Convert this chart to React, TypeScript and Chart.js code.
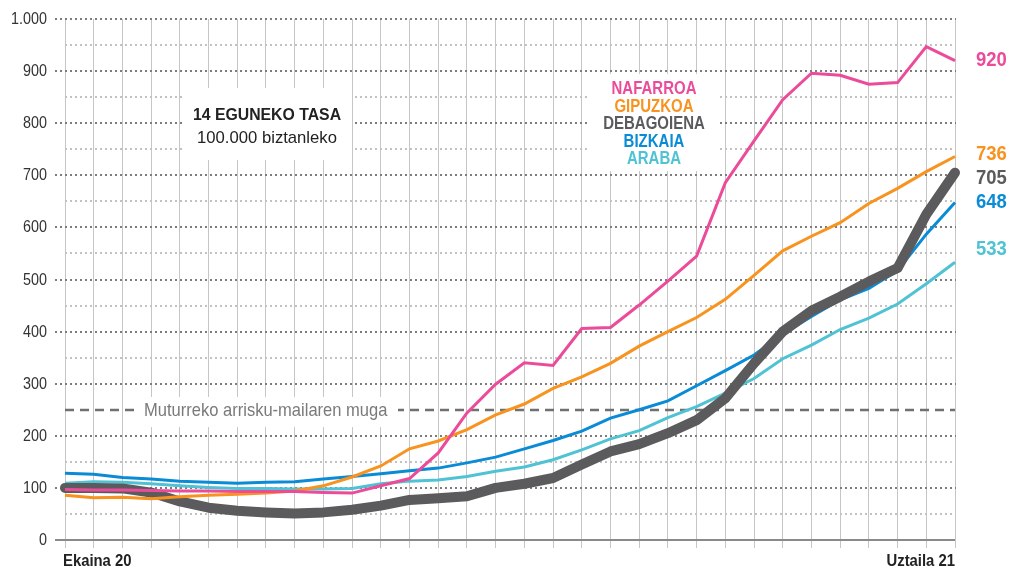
import React, { useEffect, useRef } from 'react';
import { Chart, registerables } from 'chart.js';

Chart.register(...registerables);

const FONT = '"Liberation Sans", Arial, sans-serif';

const dates = [
  'Ekaina 20', 'Ekaina 21', 'Ekaina 22', 'Ekaina 23', 'Ekaina 24', 'Ekaina 25', 'Ekaina 26',
  'Ekaina 27', 'Ekaina 28', 'Ekaina 29', 'Ekaina 30',
  'Uztaila 1', 'Uztaila 2', 'Uztaila 3', 'Uztaila 4', 'Uztaila 5', 'Uztaila 6', 'Uztaila 7',
  'Uztaila 8', 'Uztaila 9', 'Uztaila 10', 'Uztaila 11', 'Uztaila 12', 'Uztaila 13', 'Uztaila 14',
  'Uztaila 15', 'Uztaila 16', 'Uztaila 17', 'Uztaila 18', 'Uztaila 19', 'Uztaila 20', 'Uztaila 21',
];

const nafarroa = [97, 96, 96, 95, 94, 94, 93, 93, 93, 91, 90, 104, 118, 167, 244, 299, 340, 335, 406, 408, 451, 497, 545, 686, 766, 845, 896, 892, 875, 878, 947, 920];
const gipuzkoa = [86, 81, 82, 79, 83, 86, 88, 90, 94, 104, 121, 142, 175, 190, 212, 240, 261, 291, 313, 339, 372, 400, 427, 462, 508, 555, 583, 609, 646, 675, 707, 736];
const debagoiena = [100, 100, 99, 91, 74, 62, 56, 53, 51, 53, 58, 66, 77, 80, 84, 100, 108, 119, 145, 170, 184, 205, 230, 272, 339, 400, 440, 467, 496, 522, 625, 705];
const bizkaia = [128, 126, 120, 117, 113, 111, 109, 111, 112, 117, 122, 127, 133, 138, 148, 159, 175, 191, 209, 234, 250, 267, 296, 325, 355, 395, 429, 461, 483, 517, 587, 648];
const araba = [109, 112, 111, 108, 104, 101, 99, 99, 98, 98, 99, 108, 113, 115, 122, 132, 140, 154, 173, 194, 210, 235, 256, 282, 310, 348, 374, 404, 426, 453, 492, 533];

const seriesNames = ['NAFARROA', 'GIPUZKOA', 'DEBAGOIENA', 'BIZKAIA', 'ARABA'];
const seriesData = [nafarroa, gipuzkoa, debagoiena, bizkaia, araba];
const seriesColors = ['#EC4B9A', '#F7931E', '#5B5B5D', '#0A8BD6', '#4FC3D3'];
const seriesWidths = [3, 3, 10, 3, 3];
// value levels at which the end labels are placed (to avoid overlap)
const endLabelLevels = [920, 741, 695, 649, 558];

const yTicks = [0, 100, 200, 300, 400, 500, 600, 700, 800, 900, 1000];
const yTickLabels = ['0', '100', '200', '300', '400', '500', '600', '700', '800', '900', '1.000'];
const THRESHOLD = 250;
const thresholdLabel = 'Muturreko arrisku-mailaren muga';
const titleLine1 = '14 EGUNEKO TASA';
const titleLine2 = '100.000 biztanleko';

function narrowText(ctx: CanvasRenderingContext2D, text: string, x: number, y: number, align: CanvasTextAlign, sx: number) {
  ctx.save();
  ctx.translate(x, y);
  ctx.scale(sx, 1);
  ctx.textAlign = align;
  ctx.textBaseline = 'middle';
  ctx.fillText(text, 0, 0);
  ctx.restore();
}

const overlayPlugin = {
  id: 'overlay',
  beforeDatasetsDraw(chart: any) {
    const { ctx, chartArea: a, scales } = chart;
    const y = scales.y;
    ctx.save();
    // horizontal dotted grid
    for (let v = 50; v <= 1000; v += 50) {
      if (v === THRESHOLD) continue;
      const major = v % 100 === 0;
      const py = Math.round(y.getPixelForValue(v));
      ctx.strokeStyle = major ? '#7c7c7c' : '#c2c2c2';
      ctx.lineWidth = 2;
      ctx.setLineDash([2, 3]);
      ctx.beginPath();
      ctx.moveTo(major ? a.left - 10 : a.left, py);
      ctx.lineTo(a.right + 1, py);
      ctx.stroke();
    }
    ctx.setLineDash([]);
    // threshold dashed line
    const ty = Math.round(y.getPixelForValue(THRESHOLD));
    ctx.strokeStyle = '#707070';
    ctx.lineWidth = 2.5;
    ctx.setLineDash([9, 6]);
    ctx.beginPath();
    ctx.moveTo(a.left, ty);
    ctx.lineTo(a.right, ty);
    ctx.stroke();
    ctx.setLineDash([]);
    // zero line
    const zy = Math.round(y.getPixelForValue(0));
    ctx.strokeStyle = '#8a8a8a';
    ctx.lineWidth = 2;
    ctx.beginPath();
    ctx.moveTo(a.left - 10, zy);
    ctx.lineTo(a.right, zy);
    ctx.stroke();

    // white boxes
    ctx.fillStyle = '#ffffff';
    ctx.fillRect(140, ty - 13, 258, 30);
    ctx.fillRect(182, 88, 170, 72);
    ctx.fillRect(587, 74, 131, 97);

    // y tick labels
    ctx.fillStyle = '#333333';
    ctx.font = `16.5px ${FONT}`;
    yTicks.forEach((v, i) => {
      narrowText(ctx, yTickLabels[i], a.left - 18, y.getPixelForValue(v) + 0.5, 'right', 0.87);
    });

    // threshold label
    ctx.fillStyle = '#7a7a7a';
    ctx.font = `19px ${FONT}`;
    narrowText(ctx, thresholdLabel, 144, ty + 1, 'left', 0.87);

    // title box
    ctx.fillStyle = '#222222';
    ctx.font = `bold 17px ${FONT}`;
    narrowText(ctx, titleLine1, 267, 115, 'center', 0.93);
    ctx.font = `17px ${FONT}`;
    narrowText(ctx, titleLine2, 267, 138, 'center', 0.98);

    // legend
    ctx.font = `bold 18.5px ${FONT}`;
    seriesNames.forEach((n, i) => {
      ctx.fillStyle = seriesColors[i];
      narrowText(ctx, n, 654, 89 + i * 17.5, 'center', 0.81);
    });
    ctx.restore();
  },
  afterDatasetsDraw(chart: any) {
    const { ctx, chartArea: a, scales } = chart;
    const y = scales.y;
    ctx.save();
    ctx.font = `bold 21px ${FONT}`;
    seriesData.forEach((d, i) => {
      ctx.fillStyle = seriesColors[i];
      narrowText(ctx, String(d[d.length - 1]), a.right + 21, y.getPixelForValue(endLabelLevels[i]), 'left', 0.88);
    });
    // x labels
    ctx.fillStyle = '#222222';
    ctx.font = `bold 16.5px ${FONT}`;
    narrowText(ctx, dates[0], a.left - 2, 561, 'left', 0.9);
    narrowText(ctx, dates[dates.length - 1], a.right, 561, 'right', 0.9);
    ctx.restore();
  },
};

export default function App() {
  const ref = useRef<HTMLCanvasElement>(null);
  useEffect(() => {
    if (!ref.current) return;
    const chart = new Chart(ref.current, {
      type: 'line',
      data: {
        labels: dates,
        datasets: seriesData.map((d, i) => ({
          label: seriesNames[i],
          data: d,
          borderColor: seriesColors[i],
          backgroundColor: seriesColors[i],
          borderWidth: seriesWidths[i],
          pointRadius: 0,
          tension: 0,
          fill: false,
          clip: false as any,
          borderCapStyle: i === 2 ? 'round' : 'butt',
          borderJoinStyle: i === 2 ? 'round' : 'miter',
        })),
      },
      options: {
        responsive: false,
        animation: false,
        events: [],
        layout: { padding: { left: 0, right: 54, top: 19, bottom: 0 } },
        plugins: { legend: { display: false }, tooltip: { enabled: false } },
        scales: {
          x: {
            type: 'category',
            offset: false,
            grid: { display: true, color: '#c6c6c6', lineWidth: 1, drawTicks: true, tickLength: 8 },
            border: { display: false },
            ticks: { display: false },
            afterFit: (s: any) => { s.height = 30; },
          },
          y: {
            min: 0,
            max: 1000,
            afterBuildTicks: (s: any) => { s.ticks = yTicks.map((v) => ({ value: v })); },
            ticks: { display: false },
            grid: { display: false, drawTicks: false },
            border: { display: false },
            afterFit: (s: any) => { s.width = 65; },
          },
        },
      },
      plugins: [overlayPlugin],
    });
    return () => chart.destroy();
  }, []);
  return (
    <div style={{ position: 'absolute', left: 0, top: 0, width: 1009, height: 570, background: '#fff' }}>
      <canvas ref={ref} width={1009} height={570} style={{ display: 'block' }} />
    </div>
  );
}
